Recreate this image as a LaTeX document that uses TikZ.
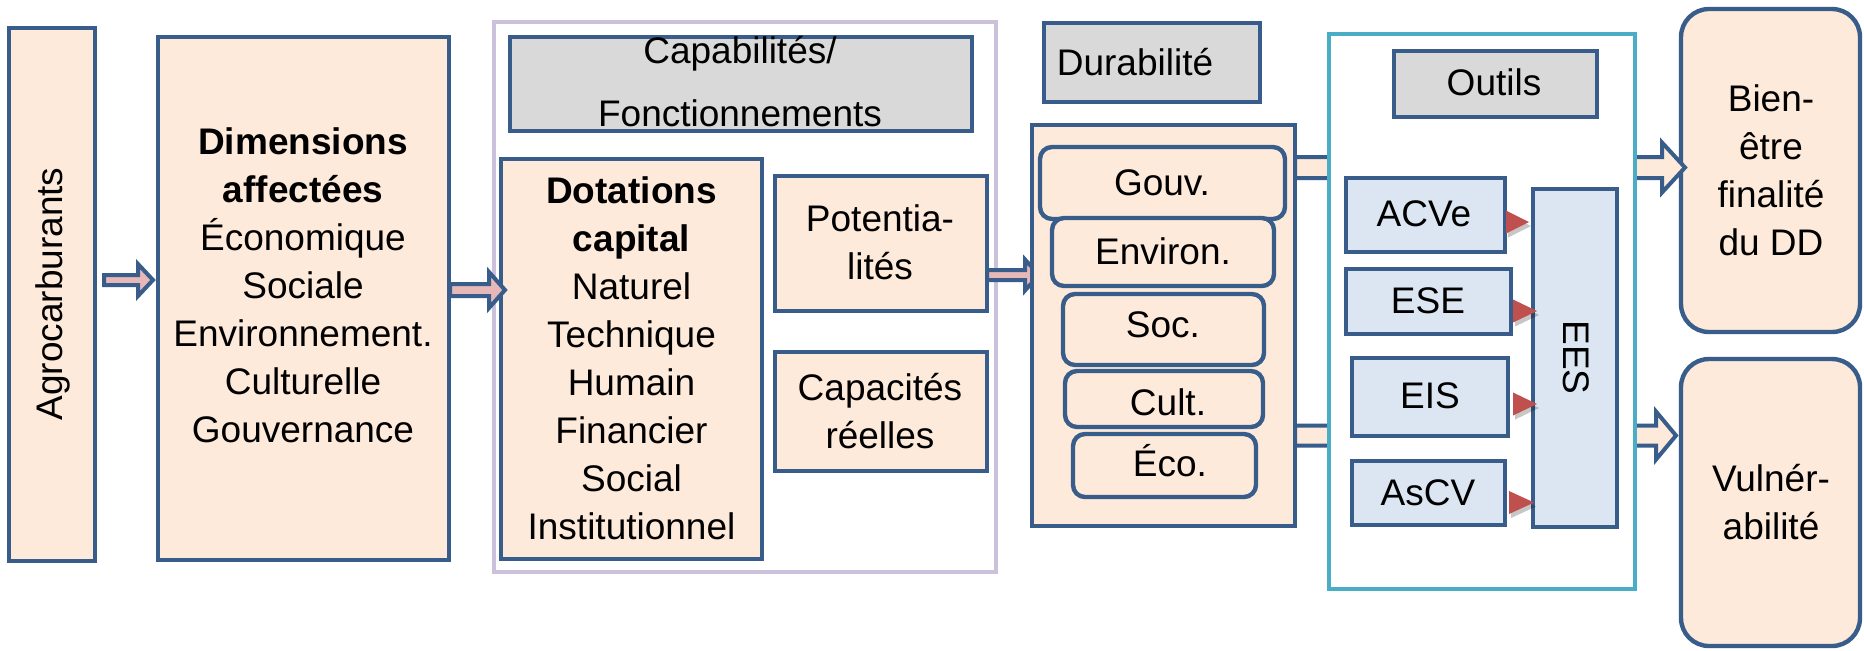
\documentclass[tikz,border=0pt]{standalone}
\usepackage{fontspec}
\setmainfont{Liberation Sans}
\usetikzlibrary{calc,fit}
\definecolor{bord}{HTML}{385D8A}
\definecolor{peach}{HTML}{FDEADA}
\definecolor{pinkf}{HTML}{E6B9B8}
\definecolor{greyf}{HTML}{D9D9D9}
\definecolor{lblue}{HTML}{DCE6F2}
\definecolor{tealb}{HTML}{4BACC6}
\definecolor{lav}{HTML}{CCC1DA}
\definecolor{redt}{HTML}{C0504D}
\tikzset{
  bx/.style={draw=bord, line width=2.2pt, inner sep=0pt, outer sep=0pt, fill=peach},
  capgrp/.style={draw=lav, line width=2pt, fill=white},
  titlebox/.style={fill=greyf},
  tool/.style={fill=lblue},
  outl/.style={draw=tealb, line width=2pt, fill=white},
  rnd/.style={rounded corners=6pt},
  bigr/.style={rounded corners=14pt},
  barr/.style={draw=bord, line width=2pt, fill=pinkf, line join=miter},
  barrbig/.style={fill=peach},
  txt/.style={align=center, inner sep=0pt, font=\fontsize{18.5}{24}\selectfont},
  shadowc/.style={fill=black, opacity=0.22},
  redtri/.style={fill=redt}
}
\newcommand\mkbox[6][]{\node[bx,#1,fit={(#3,#4) (#5,#6)}] (#2) {};}
\newcommand\barrow[6][]{%
  \draw[barr,#1] ($(#2)+(0,#4)$) -- ($(#3)+(-#6,#4)$) -- ($(#3)+(-#6,#5)$) -- (#3)
    -- ($(#3)+(-#6,-#5)$) -- ($(#3)+(-#6,-#4)$) -- ($(#2)+(0,-#4)$) -- cycle;}
\begin{document}
\begin{tikzpicture}[x=0.5pt,y=-0.5pt]
\useasboundingbox (0,0) rectangle (1864,650);
\fill[white] (0,0) rectangle (1864,650);

% capabilities group
\mkbox[capgrp]{capab}{494}{22}{996}{572}
\mkbox[titlebox]{capt}{510}{37}{972}{131}
\mkbox{dot}{501}{159}{762}{559}
\mkbox{pot}{775}{176}{987}{311}
\mkbox{cap}{775}{352}{987}{471}
% left boxes
\mkbox{agro}{9}{28}{95}{561}
\mkbox{dim}{158}{37}{449}{560}

% small block arrows
\coordinate (a1s) at (104,280);  \coordinate (a1e) at (153,280);
\coordinate (a2s) at (450,290);  \coordinate (a2e) at (505,290);
\coordinate (a3s) at (987,275);  \coordinate (a3e) at (1039,275);
\barrow{a1s}{a1e}{5}{16}{15}
\barrow{a2s}{a2e}{6}{18}{16}
\barrow{a3s}{a3e}{5}{15.5}{14}

% final boxes
\mkbox[bigr]{bien}{1681}{9}{1860}{332}
\mkbox[bigr]{vuln}{1681}{359}{1860}{646}

% durabilite
\mkbox[titlebox]{durt}{1044}{23}{1260}{102}
\mkbox{dura}{1032}{125}{1295}{526}
\mkbox[rnd]{gouv}{1040}{147}{1285}{219}
\mkbox[rnd]{env}{1052}{218}{1274}{286}
\mkbox[rnd]{soc}{1063}{294}{1264}{365}
\mkbox[rnd]{cult}{1065}{371}{1263}{427}
\mkbox[rnd]{eco}{1073}{434}{1256}{497}

% big arrows (behind outils)
\coordinate (a4s) at (1295,167.5); \coordinate (a4e) at (1685,167.5);
\coordinate (a5s) at (1295,435.5); \coordinate (a5e) at (1676,435.5);
\barrow[barrbig]{a4s}{a4e}{10.5}{25}{23}
\barrow[barrbig]{a5s}{a5e}{10}{24}{20}

% outils
\mkbox[outl]{outils}{1329}{34}{1635}{589}
\mkbox[titlebox]{outt}{1394}{51}{1597}{117}
\mkbox[tool]{acve}{1346}{178}{1505}{252}
\mkbox[tool]{ese}{1346}{269}{1511}{334}
\mkbox[tool]{eis}{1352}{358}{1508}{436}
\mkbox[tool]{ascv}{1352}{461}{1505}{525}
\mkbox[tool]{ees}{1533}{189}{1617}{527}

% red triangles
\foreach \tx/\ty/\bx in {1529/222/1506, 1537/311/1513, 1537/404/1513, 1534/502.5/1509}{
  \fill[shadowc] (\bx+2,\ty-7.5) -- (\tx+2,\ty+4) -- (\bx+2,\ty+15.5) -- cycle;
  \fill[redtri] (\bx,\ty-11.5) -- (\tx,\ty) -- (\bx,\ty+11.5) -- cycle;
}

% texts
\node[txt, rotate=90] (agrot) at (53,294) {\strut Agrocarburants};
\node[txt] (dimt) at (303,288.4) {\strut\textbf{Dimensions}\\\strut\textbf{affectées}\\\strut Économique\\\strut Sociale\\\strut Environnement.\\\strut Culturelle\\\strut Gouvernance};
\node[txt, font=\fontsize{18.5}{31.5}\selectfont] (captt) at (740,81.9) {\strut Capabilités/\\\strut Fonctionnements};
\node[txt] (dott) at (631.5,361.4) {\strut\textbf{Dotations}\\\strut\textbf{capital}\\\strut Naturel\\\strut Technique\\\strut Humain\\\strut Financier\\\strut Social\\\strut Institutionnel};
\node[txt] (pott) at (880,245.9) {\strut Potentia-\\\strut lités};
\node[txt] (capt2) at (880,414.4) {\strut Capacités\\\strut réelles};
\node[txt] (durtt) at (1135,65.4) {\strut Durabilité};
\node[txt] (gouvt) at (1162,185.4) {\strut Gouv.};
\node[txt] (envt) at (1163,254.4) {\strut Environ.};
\node[txt] (soct) at (1163,327.4) {\strut Soc.};
\node[txt] (cultt) at (1168,405.4) {\strut Cult.};
\node[txt] (ecot) at (1170,466.4) {\strut Éco.};
\node[txt] (outtt) at (1494,85.4) {\strut Outils};
\node[txt] (acvet) at (1424,216.4) {\strut ACVe};
\node[txt] (eset) at (1428,303.4) {\strut ESE};
\node[txt] (eist) at (1430,398.4) {\strut EIS};
\node[txt] (ascvt) at (1428,495.4) {\strut AsCV};
\node[txt, rotate=-90] (eest) at (1572.6,357.5) {\strut EES};
\node[txt] (bient) at (1771,173.4) {\strut Bien-\\\strut être\\\strut finalité\\\strut du DD};
\node[txt] (vulnt) at (1771,505.4) {\strut Vulnér-\\\strut abilité};
\end{tikzpicture}
\end{document}
